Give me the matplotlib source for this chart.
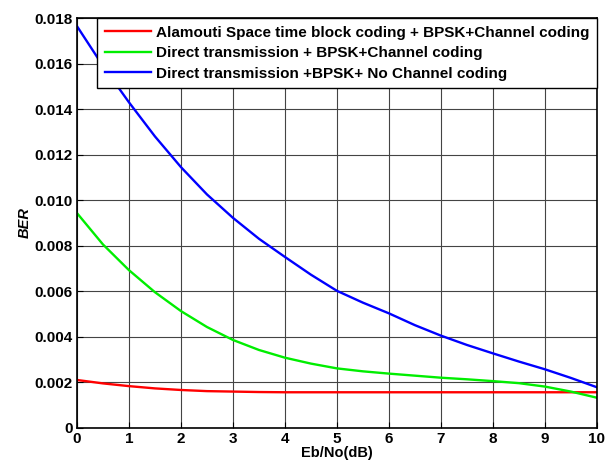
import numpy as np
import matplotlib.pyplot as plt

# Eb/No grid (dB) and BER readings taken off the curve
ebno = [0, 0.5, 1, 1.5, 2, 2.5, 3, 3.5, 4, 4.5, 5, 5.5, 6, 6.5, 7, 7.5, 8, 8.5, 9, 9.5, 10]
ber_alamouti = [0.00209, 0.00194, 0.00182, 0.00172, 0.00165, 0.00160, 0.00158, 0.00156, 0.00155, 0.00155, 0.00155,
                0.00155, 0.00155, 0.00155, 0.00155, 0.00155, 0.00155, 0.00155, 0.00155, 0.00155, 0.00155]
ber_direct_cc = [0.00943, 0.00805, 0.00692, 0.00595, 0.00512, 0.00442, 0.00385, 0.00341, 0.00307, 0.00281, 0.00260,
                 0.00247, 0.00237, 0.00228, 0.00219, 0.00212, 0.00204, 0.00195, 0.00180, 0.00158, 0.00131]
ber_direct_nocc = [0.01765, 0.01590, 0.01430, 0.01280, 0.01145, 0.01025, 0.00922, 0.00830, 0.00750, 0.00672, 0.00601,
                   0.00549, 0.00502, 0.00450, 0.00404, 0.00363, 0.00326, 0.00290, 0.00256, 0.00218, 0.00177]

labels = ["Alamouti Space time block coding + BPSK+Channel coding",
          "Direct transmission + BPSK+Channel coding",
          "Direct transmission +BPSK+ No Channel coding"]

plt.rcParams['font.family'] = ['Liberation Sans', 'DejaVu Sans']
plt.rcParams['font.weight'] = 'bold'

fig = plt.figure(figsize=(6.06, 4.66), dpi=100)
ax = fig.add_axes([0.127, 0.0826, 0.858, 0.8784])

ax.plot(ebno, ber_alamouti, color='#ff0000', lw=1.7, label=labels[0])
ax.plot(ebno, ber_direct_cc, color='#00ee00', lw=1.7, label=labels[1])
ax.plot(ebno, ber_direct_nocc, color='#0000ff', lw=1.7, label=labels[2])

ax.set_xlim(0, 10)
ax.set_ylim(0, 0.018)
ax.set_xticks(range(0, 11))
yt = np.arange(0, 0.0181, 0.002)
ax.set_yticks(yt)
ax.set_yticklabels(['0'] + ['%.3f' % v for v in yt[1:]])
ax.tick_params(direction='in', labelsize=11, length=4, width=0.8, pad=3)
for lab in ax.get_xticklabels() + ax.get_yticklabels():
    lab.set_fontweight('bold')
ax.grid(True, color='#444444', lw=0.8, ls='-')
for s in ax.spines.values():
    s.set_linewidth(1.2)

ax.set_xlabel("Eb/No(dB)", fontsize=10.5, fontweight='bold', labelpad=0)
ax.set_ylabel("BER", fontsize=10.5, fontweight='bold', style='italic', labelpad=2)

leg = ax.legend(loc='upper right', fontsize=11, fancybox=False, framealpha=1,
                edgecolor='black', borderaxespad=0, handlelength=3.0,
                handletextpad=0.35, labelspacing=0.42, borderpad=0.5)
leg.get_frame().set_linewidth(1.0)
for t in leg.get_texts():
    t.set_fontweight('bold')

fig.savefig('out.png', dpi=100)
